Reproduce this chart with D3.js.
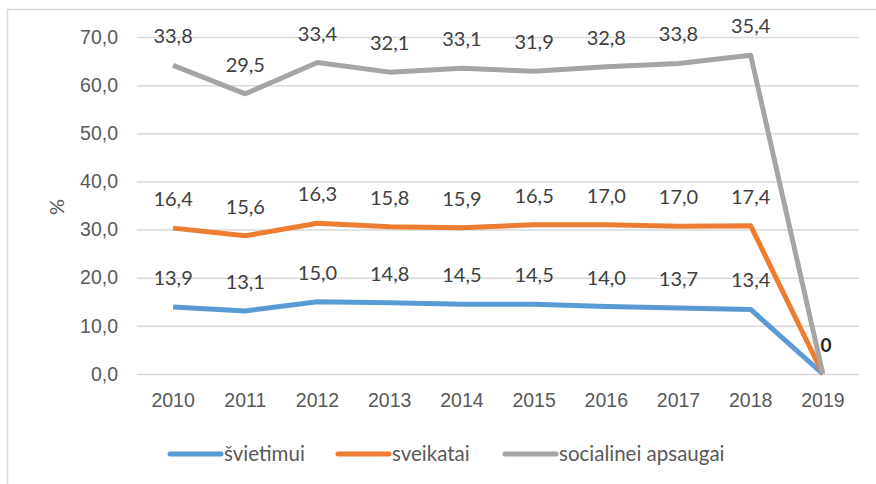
<!DOCTYPE html>
<html>
<head>
<meta charset="utf-8">
<script src="https://cdn.jsdelivr.net/npm/d3@7"></script>
<style>
  body { margin: 0; background: #fff; }
  svg { font-family: Lato, "Open Sans", sans-serif; }
  .tick text { fill: #595959; font-size: 19.5px; }
  .labels { fill: #404040; font-size: 20px; }
</style>
</head>
<body>
<div id="vis"></div>
<script>
// data (shares in %), lines are stacked
const years = ['2010','2011','2012','2013','2014','2015','2016','2017','2018','2019']
const svietimui = [13.9, 13.1, 15.0, 14.8, 14.5, 14.5, 14.0, 13.7, 13.4, 0]
const sveikatai = [16.4, 15.6, 16.3, 15.8, 15.9, 16.5, 17.0, 17.0, 17.4, 0]
const socialinei = [33.8, 29.5, 33.4, 32.1, 33.1, 31.9, 32.8, 33.8, 35.4, 0]
const seriesNames = ['švietimui', 'sveikatai', 'socialinei apsaugai']
const yTicks = [0, 10, 20, 30, 40, 50, 60, 70]

const colors = ['#5B9BD5', '#ED7D31', '#A5A5A5']

const W = 876, H = 484
const margin = {top: 37, right: 17, bottom: 110, left: 137}
const width = W - margin.left - margin.right
const height = H - margin.top - margin.bottom

const rows = years.map((y, i) => ({year: y, s0: svietimui[i], s1: sveikatai[i], s2: socialinei[i]}))
const stacked = d3.stack().keys(['s0', 's1', 's2'])(rows)

const svg = d3.select('#vis').append('svg')
    .attr('width', W)
    .attr('height', H)

// chart border (cropped on right and bottom)
svg.append('rect')
    .attr('x', 7.5).attr('y', 9.5)
    .attr('width', W).attr('height', H)
    .attr('fill', 'none')
    .attr('stroke', '#D9D9D9')
    .attr('stroke-width', 1.5)

const g = svg.append('g').attr('transform', `translate(${margin.left},${margin.top})`)

const xScale = d3.scaleBand().domain(years).range([0, width])
const yScale = d3.scaleLinear().domain([0, 70]).range([height, 0])

// gridlines + y axis
const yAxis = g.append('g')
    .call(d3.axisLeft(yScale).tickValues(yTicks).tickSize(-width).tickPadding(19)
        .tickFormat(d => d3.format('.1f')(d).replace('.', ',')))
yAxis.select('.domain').remove()
yAxis.selectAll('.tick line').attr('stroke', '#D9D9D9').attr('stroke-width', 1.5)

// x axis
const xAxis = g.append('g')
    .attr('transform', `translate(0,${height})`)
    .call(d3.axisBottom(xScale).tickSize(0).tickPadding(19))
xAxis.select('.domain').remove()

// y label
svg.append('text')
    .attr('transform', 'rotate(-90)')
    .attr('x', -207)
    .attr('y', 64)
    .attr('text-anchor', 'middle')
    .attr('fill', '#595959')
    .style('font-size', '20px')
    .text('%')

const line = d3.line()
    .x(d => xScale(d.data.year) + xScale.bandwidth() / 2)
    .y(d => yScale(d[1]))

g.selectAll('.series')
    .data(stacked)
    .join('path')
    .attr('class', 'series')
    .attr('d', line)
    .attr('fill', 'none')
    .attr('stroke', (d, i) => colors[i])
    .attr('stroke-width', 5)
    .attr('stroke-linejoin', 'round')

// data labels
const raw = [svietimui, sveikatai, socialinei]
stacked.forEach((s, si) => {
  g.selectAll('.lab' + si)
    .data(s.filter((d, i) => raw[si][i] !== 0))
    .join('text')
    .attr('class', 'labels')
    .attr('x', d => xScale(d.data.year) + xScale.bandwidth() / 2)
    .attr('y', d => yScale(d[1]) - 22)
    .attr('text-anchor', 'middle')
    .text(d => d3.format('.1f')(raw[si][years.indexOf(d.data.year)]).replace('.', ','))
})

// lone zero label at 2019
g.append('text')
    .attr('x', xScale('2019') + xScale.bandwidth() / 2 + 3)
    .attr('y', yScale(0) - 22)
    .attr('text-anchor', 'middle')
    .attr('fill', '#262626')
    .style('font-size', '19px')
    .style('font-weight', 'bold')
    .text('0')

// legend
const legendX = [170, 338, 505]
const leg = svg.append('g')
seriesNames.forEach((name, i) => {
  leg.append('line')
      .attr('x1', legendX[i]).attr('x2', legendX[i] + 51)
      .attr('y1', 454).attr('y2', 454)
      .attr('stroke', colors[i])
      .attr('stroke-width', 5)
      .attr('stroke-linecap', 'round')
  leg.append('text')
      .attr('x', legendX[i] + 54)
      .attr('y', 461)
      .attr('fill', '#595959')
      .style('font-size', '20.5px')
      .text(name)
})
</script>
</body>
</html>
